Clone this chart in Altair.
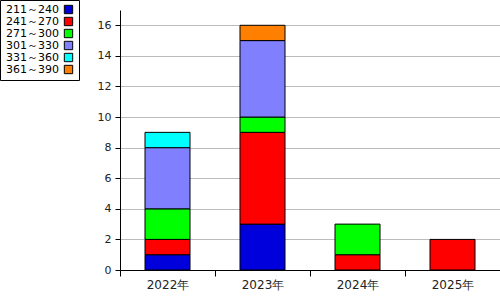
import altair as alt
import pandas as pd

years = ["2022年", "2023年", "2024年", "2025年"]
ranges = ["211～240", "241～270", "271～300", "301～330", "331～360", "361～390"]
colors = ["#0000dd", "#ff0000", "#00ff00", "#8080ff", "#00ffff", "#ff8000"]
counts = {
    "211～240": [1, 3, 0, 0],
    "241～270": [1, 6, 1, 2],
    "271～300": [2, 1, 2, 0],
    "301～330": [4, 5, 0, 0],
    "331～360": [1, 0, 0, 0],
    "361～390": [0, 1, 0, 0],
}

rows = []
for i, r in enumerate(ranges):
    for y, v in zip(years, counts[r]):
        if v > 0:
            rows.append({"year": y, "range": r, "idx": i, "count": v})
df = pd.DataFrame(rows)

FONT = "DejaVu Sans"

chart = alt.Chart(df).mark_bar(width=45, stroke="black", strokeWidth=1).encode(
    x=alt.X("year:N", sort=years, title=None,
            scale=alt.Scale(domain=years, paddingInner=0, paddingOuter=0),
            axis=alt.Axis(labelAngle=0, tickBand="extent", domainColor="black",
                          tickColor="black", tickSize=6, labelFont=FONT,
                          labelFontSize=12, labelColor="#222", labelPadding=3,
                          grid=False)),
    y=alt.Y("count:Q", stack="zero", title=None,
            scale=alt.Scale(domain=[0, 17], nice=False),
            axis=alt.Axis(values=[0, 2, 4, 6, 8, 10, 12, 14, 16], domainColor="black",
                          tickColor="black", tickSize=5, labelFont=FONT,
                          labelFontSize=11, labelColor="#222", labelPadding=4,
                          grid=True, gridColor="#bbbbbb")),
    color=alt.Color("range:N", scale=alt.Scale(domain=ranges, range=colors),
                    legend=alt.Legend(title=None, orient="none", legendX=-120, legendY=-10,
                                      symbolType="square", symbolSize=70,
                                      symbolStrokeColor="black", symbolStrokeWidth=1,
                                      labelFont=FONT, labelFontSize=11, labelColor="black",
                                      labelAlign="right", symbolOffset=59,
                                      labelOffset={"expr": "-15"},
                                      strokeColor="black", fillColor="white",
                                      padding=4, rowPadding={"expr": "-3.8"})),
    order=alt.Order("idx:Q", sort="ascending"),
).properties(
    width=380, height=260,
    autosize=alt.AutoSizeParams(type="none"),
    padding={"left": 120, "top": 10, "right": 0, "bottom": 30},
).configure_view(stroke=None)

chart.save("out.html", embed_options={"renderer": "svg", "actions": False})
